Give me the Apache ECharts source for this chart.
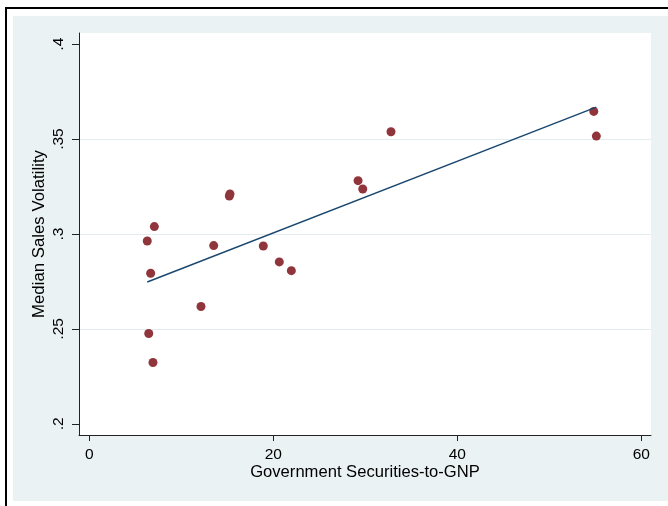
<!DOCTYPE html>
<html>
<head>
<meta charset="utf-8">
<script src="https://cdn.jsdelivr.net/npm/echarts@6/dist/echarts.min.js"></script>
<style>
  html, body { margin: 0; padding: 0; background: #ffffff; }
  #chart { width: 668px; height: 506px; }
</style>
</head>
<body>
<div id="chart"></div>
<script>
// Government securities-to-GNP ratio (x) and median sales volatility (y), one point per country
const govSecToGNP = [6.30, 7.07, 6.67, 6.46, 6.92, 12.14, 13.52, 15.22, 15.29, 18.91, 20.65, 21.96, 29.21, 29.72, 32.79, 54.83, 55.11];
const salesVolatility = [0.2963, 0.3039, 0.2793, 0.2476, 0.2323, 0.2618, 0.2939, 0.3200, 0.3211, 0.2937, 0.2853, 0.2807, 0.3281, 0.3237, 0.3539, 0.3646, 0.3516];

// Endpoints of the fitted regression line
const fitX = [6.30, 55.11];
const fitY = [0.2747, 0.3668];

// Axis ticks and grid lines
const xTicks = [0, 20, 40, 60];
const yTicks = [0.2, 0.25, 0.3, 0.35, 0.4];
const yGridLines = [0.25, 0.3, 0.35];

const FONT = '"Liberation Sans", Arial, Helvetica, sans-serif';
const BG = '#EAF2F3';
const MAROON = '#90353B';
const NAVY = '#1A476F';

const points = govSecToGNP.map((x, i) => [x, salesVolatility[i]]);
const fitLine = fitX.map((x, i) => [x, fitY[i]]);

const chart = echarts.init(document.getElementById('chart'), null, { renderer: 'canvas' });

chart.setOption({
  backgroundColor: '#ffffff',
  animation: false,
  graphic: [
    {
      type: 'rect', z: -20, silent: true,
      shape: { x: 6, y: 8, width: 700, height: 600 },
      style: { fill: null, stroke: '#000000', lineWidth: 2 }
    },
    {
      type: 'rect', z: -10, silent: true,
      shape: { x: 13, y: 16, width: 660, height: 485 },
      style: { fill: BG }
    }
  ],
  grid: {
    left: 79, top: 33, right: 17, bottom: 71,
    show: true, backgroundColor: '#ffffff', borderWidth: 0
  },
  xAxis: {
    type: 'value',
    min: -1.12, max: 61.05,
    name: 'Government Securities-to-GNP',
    nameLocation: 'middle',
    nameGap: 29,
    nameMoveOverlap: false,
    nameTextStyle: { fontFamily: FONT, fontSize: 16.6, color: '#000' },
    axisLine: { show: true, onZero: false, lineStyle: { color: '#222', width: 1 } },
    axisTick: { show: true, length: 6, customValues: xTicks, lineStyle: { color: '#222' } },
    axisLabel: { customValues: xTicks, margin: 12, fontFamily: FONT, fontSize: 15.5, color: '#000' },
    splitLine: { show: false }
  },
  yAxis: {
    type: 'value',
    min: 0.1941, max: 0.4059,
    name: 'Median Sales Volatility',
    nameLocation: 'middle',
    nameRotate: 90,
    nameGap: 31,
    nameMoveOverlap: false,
    nameTextStyle: { fontFamily: FONT, fontSize: 16.8, color: '#000' },
    axisLine: { show: true, onZero: false, lineStyle: { color: '#222', width: 1 } },
    axisTick: { show: true, length: 7, customValues: yTicks, lineStyle: { color: '#222' } },
    axisLabel: {
      customValues: yTicks, rotate: 90, margin: 12,
      fontFamily: FONT, fontSize: 15.5, color: '#000',
      formatter: v => String(+v.toFixed(2)).replace(/^0/, '')
    },
    splitLine: { show: false }
  },
  series: [
    {
      // horizontal grid lines, kept beneath the data
      type: 'line',
      data: [],
      silent: true,
      markLine: {
        z: 0,
        silent: true,
        symbol: 'none',
        label: { show: false },
        lineStyle: { color: '#E3EDEF', width: 1.2, type: 'solid' },
        data: yGridLines.map(v => ({ yAxis: v }))
      },
      z: 0
    },
    {
      type: 'scatter',
      data: points,
      symbol: 'circle',
      symbolSize: 9,
      itemStyle: { color: MAROON, opacity: 1 },
      z: 2
    },
    {
      type: 'line',
      data: fitLine,
      showSymbol: false,
      symbol: 'none',
      lineStyle: { color: NAVY, width: 1.4 },
      z: 3
    }
  ]
});
</script>
</body>
</html>
